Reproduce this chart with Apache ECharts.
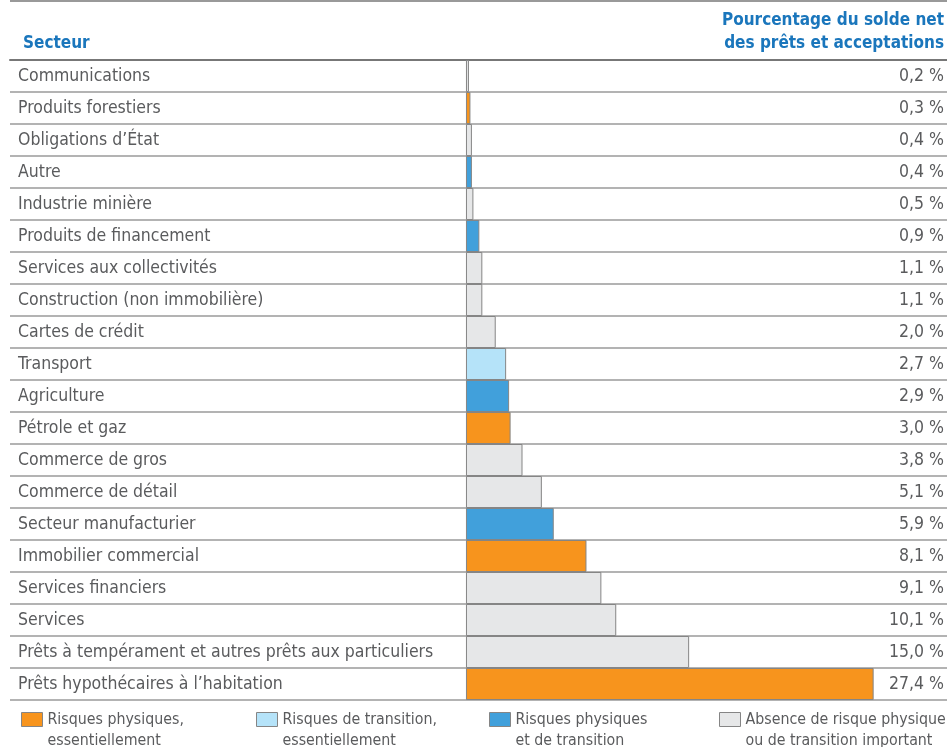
<!DOCTYPE html>
<html>
<head>
<meta charset="utf-8">
<script src="https://cdn.jsdelivr.net/npm/echarts@6/dist/echarts.min.js"></script>
<style>
html,body{margin:0;padding:0;background:#fff;}
#main{width:947px;height:747px;}
</style>
</head>
<body>
<div id="main"></div>
<script>
// ---- data ----
var categories = [
  'Communications', 'Produits forestiers', 'Obligations d’État', 'Autre',
  'Industrie minière', 'Produits de financement', 'Services aux collectivités',
  'Construction (non immobilière)', 'Cartes de crédit', 'Transport', 'Agriculture',
  'Pétrole et gaz', 'Commerce de gros', 'Commerce de détail', 'Secteur manufacturier',
  'Immobilier commercial', 'Services financiers', 'Services',
  'Prêts à tempérament et autres prêts aux particuliers',
  'Prêts hypothécaires à l’habitation'
];
var values = [0.2, 0.3, 0.4, 0.4, 0.5, 0.9, 1.1, 1.1, 2.0, 2.7, 2.9, 3.0, 3.8, 5.1, 5.9, 8.1, 9.1, 10.1, 15.0, 27.4];
// risk group of each sector: 0 physical, 1 transition, 2 physical & transition, 3 none
var riskGroup = [3, 0, 3, 2, 3, 2, 3, 3, 3, 1, 2, 0, 3, 3, 2, 0, 3, 3, 3, 0];
var groupNames = [
  'Risques physiques,\nessentiellement',
  'Risques de transition,\nessentiellement',
  'Risques physiques\net de transition',
  'Absence de risque physique\nou de transition important'
];
var groupColors = ['#f7941d', '#b5e3f9', '#41a0db', '#e6e7e8'];
var headerLeft = 'Secteur';
var headerRight = 'Pourcentage du solde net\ndes prêts et acceptations';

// ---- build ----
var valueLabels = values.map(function (v) { return v.toFixed(1).replace('.', ',') + ' %'; });
var FONT = 'DejaVu Sans Condensed';
var TXT = '#5a5b5d';
var BLUE = '#1a76bc';

var series = groupNames.map(function (name, g) {
  return {
    name: name,
    type: 'bar',
    stack: 'all',
    barCategoryGap: 0,
    barWidth: '100%',
    itemStyle: { color: groupColors[g], borderColor: '#858585', borderWidth: 1 },
    emphasis: { disabled: true },
    data: values.map(function (v, i) { return riskGroup[i] === g ? v : '-'; })
  };
});

var legendLefts = [21, 256, 489, 719];
var legends = groupNames.map(function (name, g) {
  return {
    data: [{ name: name, itemStyle: { borderColor: '#858585', borderWidth: 1 } }],
    left: legendLefts[g],
    top: 688,
    padding: 0,
    icon: 'rect',
    itemWidth: 21,
    itemHeight: 14,
    selectedMode: false,
    formatter: function (n) { return '\n' + n; },
    textStyle: { fontFamily: FONT, fontSize: 15.8, color: TXT, lineHeight: 21 }
  };
});

var chart = echarts.init(document.getElementById('main'));
chart.setOption({
  animation: false,
  title: [
    { text: headerLeft, left: 18, top: 30, textStyle: { fontFamily: FONT, fontSize: 17, fontWeight: 'bold', color: BLUE } }
  ],
  legend: legends,
  grid: { left: 10, right: 0, top: 60, bottom: 47 },
  xAxis: [{
    type: 'value',
    position: 'top',
    min: -30.645,
    max: 32.33,
    axisLine: { show: true, onZero: false, lineStyle: { color: '#777', width: 2 } },
    axisTick: { show: false },
    axisLabel: { show: false },
    splitLine: { show: false }
  }],
  yAxis: [{
    type: 'category',
    data: categories,
    inverse: true,
    position: 'left',
    axisLine: { show: false },
    axisTick: { show: false },
    splitLine: { show: true, lineStyle: { color: '#b3b3b3', width: 2 } },
    axisLabel: { inside: true, margin: 8, align: 'left', padding: [3, 0, 0, 0], fontFamily: FONT, fontSize: 17.5, color: TXT }
  }, {
    type: 'category',
    data: valueLabels,
    inverse: true,
    position: 'right',
    axisLine: { show: false },
    axisTick: { show: false },
    splitLine: { show: false },
    axisLabel: { inside: true, margin: 3, align: 'right', padding: [3, 0, 0, 0], fontFamily: FONT, fontSize: 17.5, color: TXT }
  }],
  graphic: [{
    type: 'line',
    shape: { x1: 10, y1: 1, x2: 947, y2: 1 },
    style: { stroke: '#999', lineWidth: 2 }
  }, {
    type: 'text',
    x: 944,
    y: 9.5,
    style: {
      text: headerRight,
      align: 'right',
      verticalAlign: 'top',
      lineHeight: 23,
      fontFamily: FONT,
      fontSize: 17,
      fontWeight: 'bold',
      fill: BLUE
    }
  }],
  series: series
});
</script>
</body>
</html>
